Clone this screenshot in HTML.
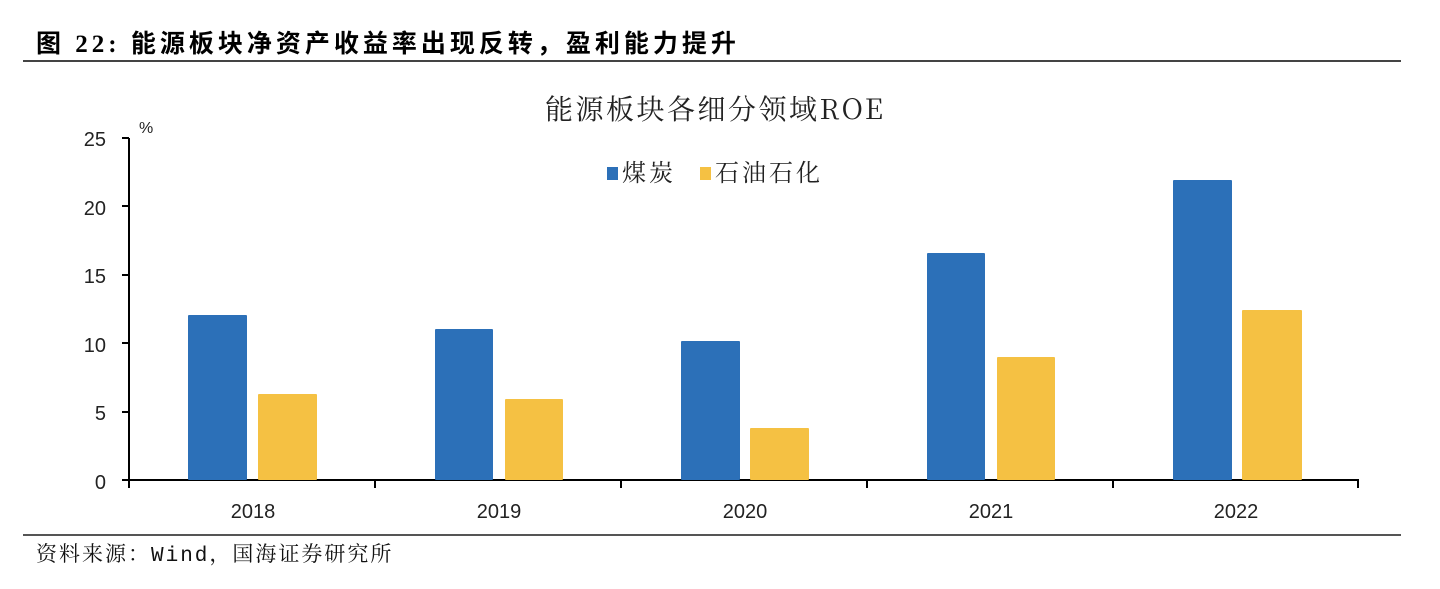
<!DOCTYPE html>
<html><head><meta charset="utf-8"><style>
body{margin:0;background:#fff;width:1440px;height:584px;overflow:hidden}
svg text{font-family:"Liberation Sans","Noto Sans CJK SC",sans-serif}
</style></head><body>
<svg width="1440" height="584" viewBox="0 0 1440 584" xmlns="http://www.w3.org/2000/svg">
<text x="36" y="52" font-size="25" font-weight="bold" fill="#000" letter-spacing="4" style="font-family:'Liberation Serif','Noto Sans CJK SC',serif">图 22:  能源板块净资产收益率出现反转，盈利能力提升</text>
<rect x="23" y="60" width="1378" height="2" fill="#444"/>
<text x="545" y="119" font-size="28" fill="#222" letter-spacing="2.5" style="font-family:'Noto Serif CJK SC',serif">能源板块各细分领域ROE</text>
<rect x="607" y="167" width="11" height="13" fill="#2c70b8"/>
<text x="622" y="181" font-size="24" fill="#222" letter-spacing="3" style="font-family:'Noto Serif CJK SC',serif">煤炭</text>
<rect x="700" y="167" width="11" height="13" fill="#f5c143"/>
<text x="715" y="181" font-size="24" fill="#222" letter-spacing="3" style="font-family:'Noto Serif CJK SC',serif">石油石化</text>
<text x="139" y="133" font-size="16" fill="#222">%</text>
<g font-size="20" fill="#222" text-anchor="end">
<text x="106" y="146">25</text><text x="106" y="215">20</text><text x="106" y="283">15</text>
<text x="106" y="352">10</text><text x="106" y="420">5</text><text x="106" y="489">0</text></g>
<g stroke="#000" stroke-width="2">
<line x1="129" y1="138" x2="129" y2="481"/>
<line x1="122" y1="138" x2="129" y2="138"/><line x1="122" y1="206" x2="129" y2="206"/>
<line x1="122" y1="275" x2="129" y2="275"/><line x1="122" y1="343" x2="129" y2="343"/>
<line x1="122" y1="412" x2="129" y2="412"/><line x1="122" y1="480" x2="129" y2="480"/>
<line x1="122" y1="480" x2="1359" y2="480"/>
<line x1="129" y1="480" x2="129" y2="488"/><line x1="375" y1="480" x2="375" y2="488"/>
<line x1="621" y1="480" x2="621" y2="488"/><line x1="867" y1="480" x2="867" y2="488"/>
<line x1="1113" y1="480" x2="1113" y2="488"/><line x1="1358" y1="480" x2="1358" y2="488"/>
</g>
<g fill="#2c70b8">
<rect x="188" y="315" width="59" height="165" rx="1"/>
<rect x="435" y="329" width="58" height="151" rx="1"/>
<rect x="681" y="341" width="59" height="139" rx="1"/>
<rect x="927" y="253" width="58" height="227" rx="1"/>
<rect x="1173" y="180" width="59" height="300" rx="1"/>
</g>
<g fill="#f5c143">
<rect x="258" y="394" width="59" height="86" rx="1"/>
<rect x="505" y="399" width="58" height="81" rx="1"/>
<rect x="750" y="428" width="59" height="52" rx="1"/>
<rect x="997" y="357" width="58" height="123" rx="1"/>
<rect x="1242" y="310" width="60" height="170" rx="1"/>
</g>
<g font-size="20" fill="#222" text-anchor="middle">
<text x="253" y="518">2018</text><text x="499" y="518">2019</text><text x="745" y="518">2020</text>
<text x="991" y="518">2021</text><text x="1236" y="518">2022</text></g>
<rect x="23" y="534" width="1378" height="2" fill="#555"/>
<text x="36" y="561" font-size="21" fill="#111" letter-spacing="2" style="font-family:'Liberation Mono','Noto Serif CJK SC',monospace">资料来源：Wind，国海证券研究所</text>
</svg>
</body></html>
